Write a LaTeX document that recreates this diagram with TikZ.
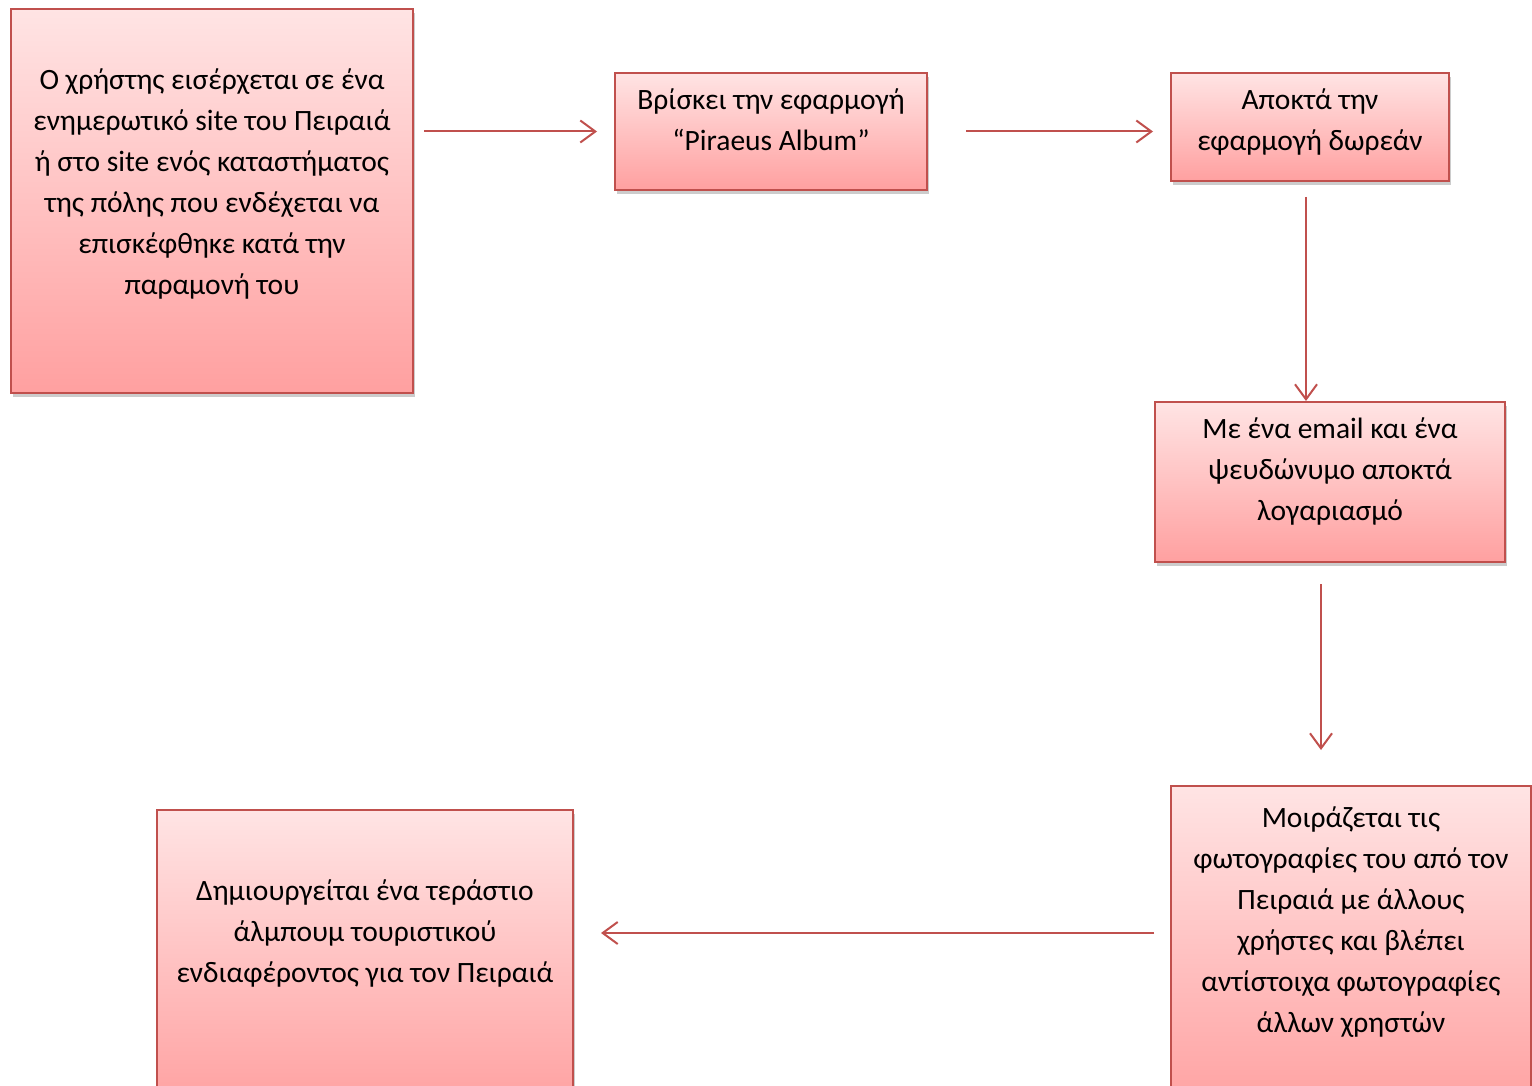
\documentclass[tikz,border=0pt]{standalone}
\usepackage{fontspec}
\setmainfont{Carlito}
\usetikzlibrary{arrows.meta, shadows, calc}

\definecolor{accentred}{RGB}{192,80,77}
\definecolor{boxtop}{RGB}{255,228,228}
\definecolor{boxbottom}{RGB}{255,160,160}

% width, height, top gap, text
\newcommand{\boxtext}[4]{\parbox[c][#2pt][t]{#1pt}{\centering\vspace*{#3pt}\strut#4\par}}

\tikzset{
  stepbox/.style={draw=accentred, line width=2pt, top color=boxtop, bottom color=boxbottom,
    inner sep=0pt, anchor=north west, font=\fontsize{29.5}{41}\selectfont,
    drop shadow={shadow xshift=2pt, shadow yshift=-4pt, opacity=0.4}},
  flow/.style={draw=accentred, line width=2pt,
    -{Straight Barb[length=15pt, width=22pt, line width=2pt]}}
}

\begin{document}
\begin{tikzpicture}[x=1pt, y=-1pt]
\useasboundingbox (0,0) rectangle (1532,1086);
\clip (0,0) rectangle (1532,1086);

\node[stepbox] (visit) at (10,8) {\boxtext{402}{384}{52}{Ο χρήστης εισέρχεται σε ένα\\ ενημερωτικό site του Πειραιά\\ ή στο site ενός καταστήματος\\ της πόλης που ενδέχεται να\\ επισκέφθηκε κατά την\\ παραμονή του}};
\node[stepbox] (find) at (614,72) {\boxtext{312}{117}{8}{Βρίσκει την εφαρμογή\\ “Piraeus Album”}};
\node[stepbox] (get) at (1170,72) {\boxtext{278}{108}{8}{Αποκτά την\\ εφαρμογή δωρεάν}};
\node[stepbox] (account) at (1154,401) {\boxtext{350}{160}{8}{Με ένα email και ένα\\ ψευδώνυμο αποκτά\\ λογαριασμό}};
\node[stepbox] (share) at (1170,785) {\boxtext{360}{330}{13}{Μοιράζεται τις\\ φωτογραφίες του από τον\\ Πειραιά με άλλους\\ χρήστες και βλέπει\\ αντίστοιχα φωτογραφίες\\ άλλων χρηστών}};
\node[stepbox] (album) at (156,809) {\boxtext{416}{300}{62}{Δημιουργείται ένα τεράστιο\\ άλμπουμ τουριστικού\\ ενδιαφέροντος για τον Πειραιά}};

% connectors
\draw[flow, shorten <=10pt, shorten >=17pt] (visit.east |- find.west) -- (find.west);
\draw[flow, shorten <=38pt, shorten >=17pt] (find.east) -- (find.east -| get.west);
\draw[flow, shorten <=15pt] ([xshift=-4pt]get.south) -- ([xshift=-4pt]get.south |- account.north);
\coordinate (accountout) at ([xshift=-9pt]account.south);
\draw[flow, shorten <=21pt, shorten >=35pt] (accountout) -- (accountout |- share.north);
\coordinate (shareout) at ([yshift=18pt]share.west);
\draw[flow, shorten <=16pt, shorten >=27pt] (shareout) -- (shareout -| album.east);
\end{tikzpicture}
\end{document}
